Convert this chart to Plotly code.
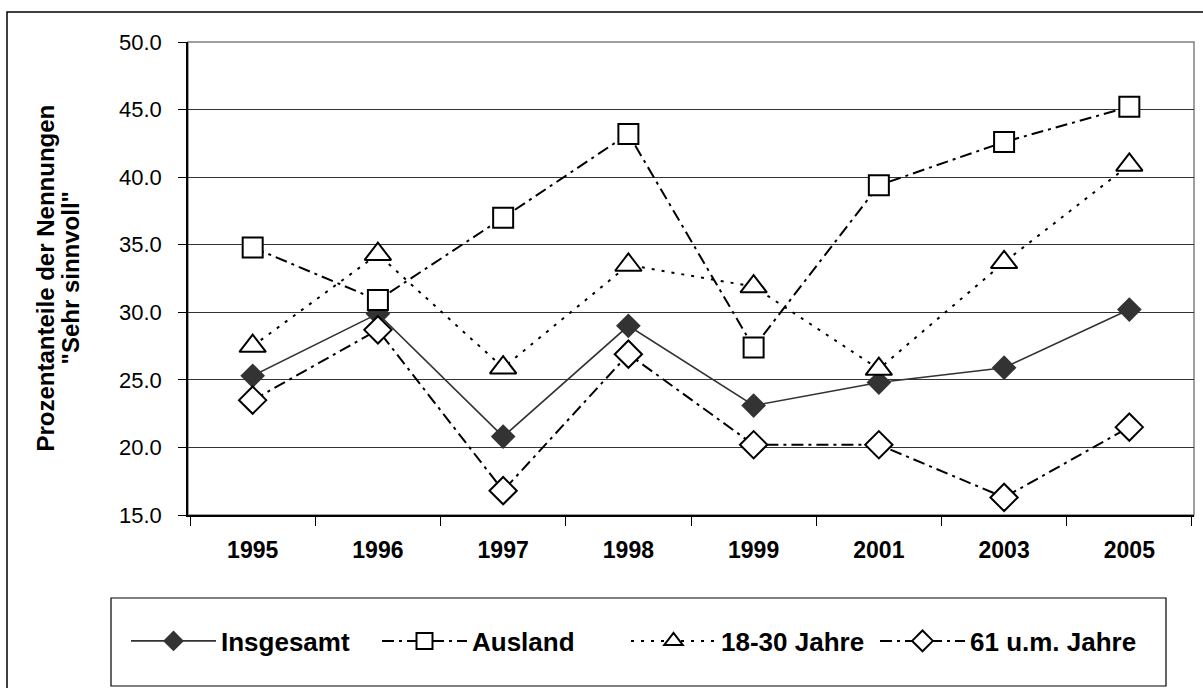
import plotly.graph_objects as go

years = ["1995", "1996", "1997", "1998", "1999", "2001", "2003", "2005"]
insgesamt = [25.3, 29.9, 20.8, 29.0, 23.1, 24.8, 25.9, 30.2]
ausland = [34.8, 30.9, 37.0, 43.2, 27.4, 39.4, 42.6, 45.2]
jahre_18_30 = [27.5, 34.3, 25.9, 33.5, 31.9, 25.8, 33.7, 40.9]
jahre_61 = [23.5, 28.7, 16.8, 26.9, 20.2, 20.2, 16.3, 21.5]

y_ticks = [15, 20, 25, 30, 35, 40, 45, 50]

W, H = 1203, 688
L, R, T, B = 188, 1194, 42, 515   # plot area in px


def px_x(px):
    return (px - L) / (R - L)


def px_y(py):
    return (B - py) / (B - T)


FONT = "Liberation Sans, Arial, sans-serif"

fig = go.Figure()

fig.add_trace(go.Scatter(
    x=years, y=insgesamt, name="Insgesamt", mode="lines+markers",
    legend="legend",
    line=dict(color="#333333", width=1.6),
    marker=dict(symbol="diamond", size=19, color="#333333",
                line=dict(color="#333333", width=0)),
))
fig.add_trace(go.Scatter(
    x=years, y=ausland, name="Ausland", mode="lines+markers",
    legend="legend2",
    line=dict(color="black", width=2, dash="12px,5px,3px,5px"),
    marker=dict(symbol="square", size=20, color="white",
                line=dict(color="black", width=2)),
))
fig.add_trace(go.Scatter(
    x=years, y=jahre_18_30, name="18-30 Jahre", mode="lines+markers",
    legend="legend3",
    line=dict(color="black", width=2, dash="3px,7px"),
    marker=dict(symbol="triangle-up", size=23, color="white",
                line=dict(color="black", width=2)),
))
fig.add_trace(go.Scatter(
    x=years, y=jahre_61, name="61 u.m. Jahre", mode="lines+markers",
    legend="legend4",
    line=dict(color="black", width=2, dash="12px,5px,3px,5px"),
    marker=dict(symbol="diamond", size=21, color="white",
                line=dict(color="black", width=2)),
))

shapes = [
    # plot area frame (gray)
    dict(type="rect", xref="paper", yref="paper", x0=0, x1=1, y0=0, y1=1,
         line=dict(color="#808080", width=1.5), layer="below"),
    # outer chart frame
    dict(type="rect", xref="paper", yref="paper",
         x0=px_x(7), x1=px_x(1215), y0=px_y(700), y1=px_y(12),
         line=dict(color="black", width=1.5), layer="below"),
    # legend frame
    dict(type="rect", xref="paper", yref="paper",
         x0=px_x(111), x1=px_x(1166), y0=px_y(686), y1=px_y(598),
         line=dict(color="black", width=1.2), layer="below"),
]

title_font = dict(family=FONT, size=24, color="black", weight="bold")


def legend_at(px):
    return dict(
        orientation="h", x=px_x(px), y=px_y(641),
        xanchor="left", yanchor="middle",
        font=dict(family=FONT, size=26, color="black", weight="bold"),
        itemwidth=85,
        bgcolor="rgba(0,0,0,0)", borderwidth=0,
    )


fig.update_layout(
    width=W, height=H,
    margin=dict(l=L, r=W - R, t=T, b=H - B, autoexpand=False),
    paper_bgcolor="white", plot_bgcolor="white",
    font=dict(family=FONT, color="black"),
    shapes=shapes,
    showlegend=True,
    legend=legend_at(126),
    legend2=legend_at(377),
    legend3=legend_at(626),
    legend4=legend_at(875),
    annotations=[
        dict(text="Prozentanteile der Nennungen",
             xref="paper", yref="paper", x=px_x(45), y=0.5,
             xanchor="center", yanchor="middle", textangle=-90,
             showarrow=False, font=title_font),
        dict(text="\"Sehr sinnvoll\"",
             xref="paper", yref="paper", x=px_x(70), y=0.5,
             xanchor="center", yanchor="middle", textangle=-90,
             showarrow=False, font=title_font),
    ],
)

fig.update_xaxes(
    type="category", categoryorder="array", categoryarray=years,
    showgrid=False, showline=True, linecolor="black", linewidth=1.5,
    ticks="outside", tickson="boundaries", ticklen=9, tickcolor="black",
    tickwidth=1, ticklabelstandoff=14,
    tickfont=dict(family=FONT, size=23, color="black", weight="bold"),
    zeroline=False, fixedrange=True,
)
fig.update_yaxes(
    range=[15, 50], tickvals=y_ticks, tickformat=".1f",
    showgrid=True, gridcolor="#333333", gridwidth=1,
    showline=True, linecolor="black", linewidth=1.5,
    ticks="outside", ticklen=8, tickcolor="black", tickwidth=1,
    ticklabelstandoff=12,
    tickfont=dict(family=FONT, size=22, color="black"),
    zeroline=False, fixedrange=True,
)

fig.write_html(
    "out.html",
    config={"displayModeBar": False},
    post_script="document.body.style.margin='0';document.body.style.overflow='hidden';",
)
